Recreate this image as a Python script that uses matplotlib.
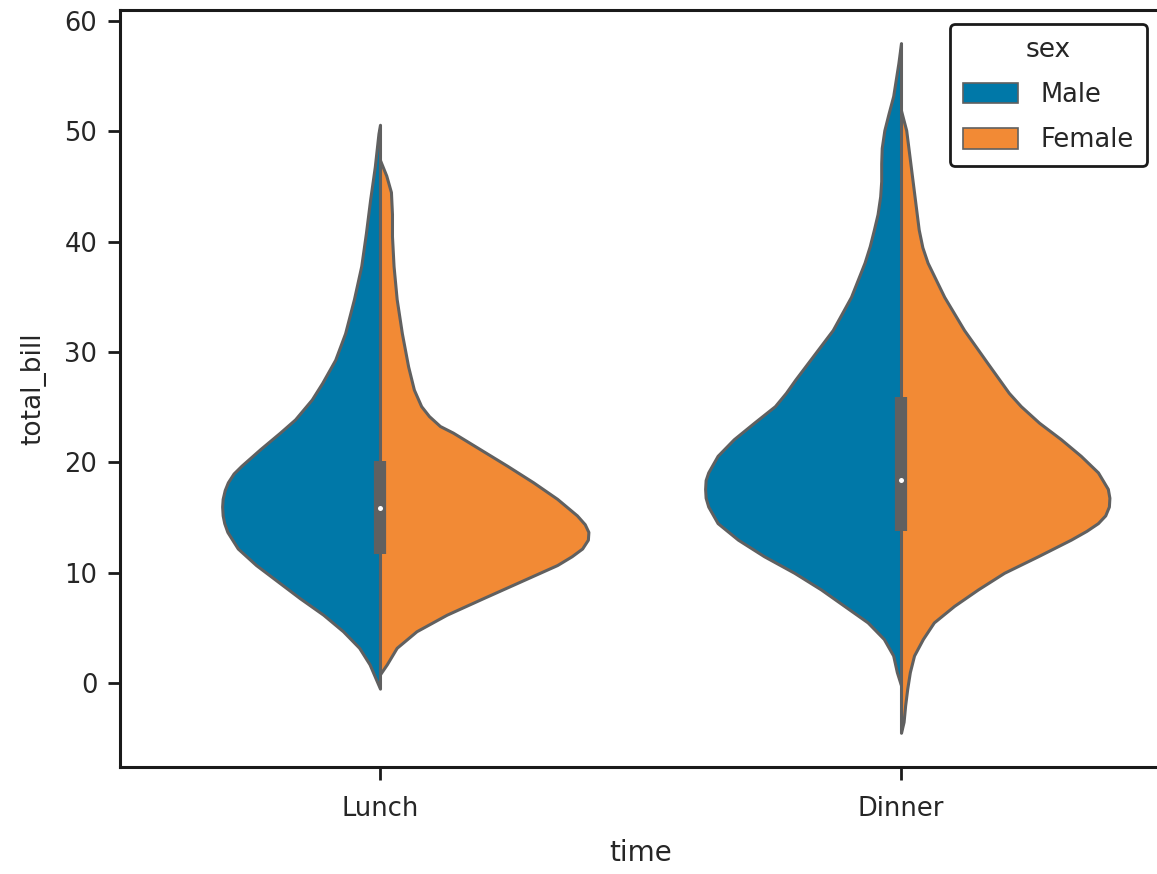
import matplotlib
matplotlib.use("Agg")
import matplotlib.pyplot as plt
from matplotlib.patches import Patch
import numpy as np

# ---- data ----
times = ["Lunch", "Dinner"]
sexes = ["Male", "Female"]

# half-violin outlines: total_bill levels and half-widths (category units)
lunch_male_y = [50.6, 49.8, 46.8, 43.8, 40.8, 37.8, 34.8, 31.7, 29.3, 27.2, 25.7, 23.9,
                22.7, 21.2, 19.7, 19.0, 18.2, 17.5, 16.7, 16.0, 15.2, 14.5, 13.7, 12.2,
                10.7, 9.2, 7.7, 6.2, 4.7, 3.2, 1.7, 0.6, -0.5]
lunch_male_w = [0.0, 0.003, 0.010, 0.019, 0.027, 0.036, 0.050, 0.067, 0.086, 0.111, 0.131, 0.163,
                0.192, 0.230, 0.266, 0.281, 0.292, 0.298, 0.302, 0.303, 0.302, 0.299, 0.293, 0.273,
                0.238, 0.196, 0.154, 0.109, 0.071, 0.040, 0.020, 0.010, 0.0]

lunch_female_y = [47.4, 46.0, 44.5, 42.5, 40.5, 37.8, 34.8, 31.7, 28.7, 26.6, 25.1, 24.2,
                  23.3, 22.7, 21.2, 19.7, 18.2, 16.7, 15.2, 14.4, 13.7, 13.0, 12.2, 11.5,
                  10.7, 9.2, 7.7, 6.2, 4.7, 3.2, 1.7, 0.8]
lunch_female_w = [0.0, 0.012, 0.021, 0.023, 0.023, 0.026, 0.032, 0.042, 0.054, 0.065, 0.079, 0.094,
                  0.115, 0.140, 0.192, 0.244, 0.294, 0.340, 0.378, 0.393, 0.400, 0.399, 0.388, 0.368,
                  0.340, 0.269, 0.198, 0.128, 0.070, 0.032, 0.013, 0.0]

dinner_male_y = [58.0, 56.2, 53.2, 51.6, 50.1, 48.5, 47.1, 45.5, 44.1, 42.5, 41.1, 39.6,
                 38.1, 35.0, 32.0, 29.0, 27.5, 26.3, 25.1, 23.6, 22.1, 20.6, 19.1, 18.4,
                 17.6, 16.8, 16.0, 14.5, 13.0, 11.5, 10.0, 8.5, 7.0, 5.5, 4.0, 2.5, 1.0, -0.2]
dinner_male_w = [0.0, 0.005, 0.015, 0.024, 0.032, 0.037, 0.038, 0.038, 0.040, 0.045, 0.052, 0.060,
                 0.070, 0.096, 0.131, 0.179, 0.203, 0.221, 0.242, 0.282, 0.321, 0.352, 0.370, 0.375,
                 0.376, 0.375, 0.370, 0.352, 0.313, 0.263, 0.205, 0.154, 0.109, 0.064, 0.033, 0.015,
                 0.008, 0.0]

dinner_female_y = [51.9, 50.1, 47.1, 44.1, 41.1, 39.5, 38.1, 35.0, 32.0, 29.0, 26.3, 25.1, 23.6,
                   22.1, 20.6, 19.1, 17.6, 16.8, 16.0, 15.2, 14.5, 13.8, 13.0, 11.5, 10.0,
                   8.5, 7.0, 5.5, 4.0, 2.5, 1.0, -0.5, -2.0, -3.5, -4.5]
dinner_female_w = [0.0, 0.010, 0.018, 0.026, 0.034, 0.041, 0.051, 0.083, 0.121, 0.166, 0.207, 0.230,
                   0.265, 0.307, 0.345, 0.378, 0.397, 0.400, 0.399, 0.392, 0.378, 0.356, 0.326, 0.263,
                   0.198, 0.148, 0.102, 0.063, 0.042, 0.025, 0.017, 0.012, 0.008, 0.005, 0.0]

# inner box (both sexes combined per time)
box_q1 = [11.7, 13.8]
box_q3 = [20.1, 25.9]
box_median = [15.9, 18.4]

yticks = [0, 10, 20, 30, 40, 50, 60]

# ---- styling ----
male_color = "#0078A8"
female_color = "#F28A35"
edge_color = "#606060"

fig = plt.figure(figsize=(11.57, 8.74), dpi=100)
ax = fig.add_axes([119.5 / 1157, 107 / 874, 1042 / 1157, 757 / 874])

halves = [
    (0, lunch_male_y, lunch_male_w, -1, male_color),
    (0, lunch_female_y, lunch_female_w, 1, female_color),
    (1, dinner_male_y, dinner_male_w, -1, male_color),
    (1, dinner_female_y, dinner_female_w, 1, female_color),
]
for pos, ys, ws, side, col in halves:
    ys = np.asarray(ys)
    ws = np.asarray(ws)
    ax.fill_betweenx(ys, pos + side * ws, pos, facecolor=col, edgecolor=edge_color,
                     linewidth=2.2, joinstyle="round", zorder=2)

for i in range(len(times)):
    ax.plot([i, i], [box_q1[i], box_q3[i]], color=edge_color, linewidth=8.8,
            solid_capstyle="butt", zorder=3)
    ax.plot([i], [box_median[i]], marker="o", color="white", markersize=3.6,
            markeredgewidth=0, zorder=4)

ax.set_xlim(-0.5, 1.5)
ax.set_ylim(-7.6, 61.0)
ax.set_xticks(range(len(times)))
ax.set_xticklabels(times)
ax.set_yticks(yticks)

for s in ["left", "bottom", "top", "right"]:
    ax.spines[s].set_linewidth(2.2)
    ax.spines[s].set_color("#1a1a1a")
ax.tick_params(axis="both", length=9, width=2, labelsize=18.5, colors="#1a1a1a",
               labelcolor="#262626")
ax.tick_params(axis="x", pad=12)
ax.tick_params(axis="y", pad=7)

ax.set_xlabel("time", fontsize=20, color="#262626", labelpad=12)
ax.set_ylabel("total_bill", fontsize=19, color="#262626", labelpad=13)

handles = [Patch(facecolor=male_color, edgecolor=edge_color, linewidth=1.2, label=sexes[0]),
           Patch(facecolor=female_color, edgecolor=edge_color, linewidth=1.2, label=sexes[1])]
leg = ax.legend(handles=handles, title="sex", loc="upper right",
                bbox_to_anchor=(1147 / 1157, 1 - 24 / 874), bbox_transform=fig.transFigure,
                borderaxespad=0, fontsize=18.5, title_fontsize=19, frameon=True,
                fancybox=True, handlelength=2.15, handleheight=0.85, handletextpad=0.9,
                labelspacing=0.75, borderpad=0.5)
leg.get_frame().set_edgecolor("#1a1a1a")
leg.get_frame().set_linewidth(2.0)
leg.get_frame().set_alpha(1)
for t in leg.get_texts():
    t.set_color("#262626")
leg.get_title().set_color("#262626")

fig.savefig("out.png", dpi=100)
